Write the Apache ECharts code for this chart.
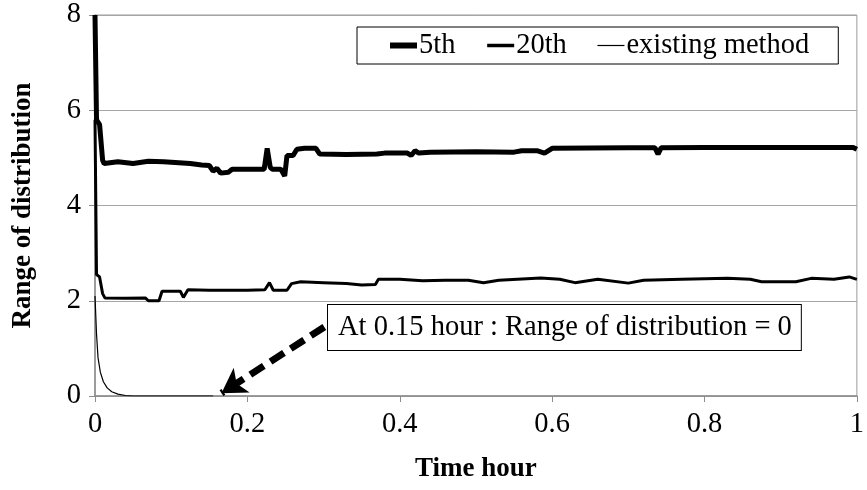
<!DOCTYPE html>
<html>
<head>
<meta charset="utf-8">
<script src="https://cdn.jsdelivr.net/npm/echarts@6/dist/echarts.min.js"></script>
<style>
  html, body { margin: 0; padding: 0; background: #fff; }
  #main { width: 867px; height: 490px; }
</style>
</head>
<body>
<div id="main"></div>
<script>
// 5th
const t5 = [0, 0.002, 0.006, 0.010, 0.012, 0.03, 0.05, 0.07, 0.09, 0.11, 0.125, 0.14, 0.15, 0.155, 0.16, 0.165, 0.175, 0.18, 0.2, 0.222, 0.226, 0.23, 0.233, 0.244, 0.249, 0.252, 0.26, 0.265, 0.275, 0.29, 0.295, 0.33, 0.37, 0.38, 0.41, 0.415, 0.42, 0.425, 0.44, 0.5, 0.55, 0.56, 0.58, 0.59, 0.6, 0.7, 0.735, 0.739, 0.743, 0.8, 0.9, 0.995, 1.0];
const v5 = [8, 5.8, 5.7, 4.95, 4.88, 4.92, 4.88, 4.93, 4.92, 4.9, 4.88, 4.85, 4.84, 4.72, 4.78, 4.68, 4.7, 4.76, 4.76, 4.76, 5.2, 4.8, 4.76, 4.76, 4.62, 5.05, 5.05, 5.18, 5.2, 5.2, 5.08, 5.07, 5.08, 5.1, 5.1, 5.05, 5.15, 5.1, 5.12, 5.13, 5.12, 5.15, 5.15, 5.1, 5.2, 5.21, 5.21, 5.08, 5.21, 5.22, 5.22, 5.22, 5.18];

// 20th
const t20 = [0, 0.002, 0.006, 0.01, 0.013, 0.04, 0.066, 0.07, 0.084, 0.088, 0.112, 0.116, 0.122, 0.15, 0.2, 0.223, 0.229, 0.234, 0.252, 0.258, 0.27, 0.3, 0.33, 0.35, 0.368, 0.372, 0.4, 0.43, 0.46, 0.49, 0.51, 0.53, 0.585, 0.61, 0.63, 0.66, 0.7, 0.72, 0.77, 0.83, 0.86, 0.875, 0.92, 0.94, 0.97, 0.99, 1.0];
const v20 = [5.8, 2.55, 2.5, 2.15, 2.06, 2.05, 2.06, 2.0, 2.0, 2.2, 2.2, 2.07, 2.23, 2.22, 2.22, 2.23, 2.38, 2.22, 2.22, 2.36, 2.4, 2.38, 2.36, 2.33, 2.34, 2.45, 2.45, 2.42, 2.43, 2.43, 2.38, 2.43, 2.48, 2.45, 2.38, 2.45, 2.37, 2.43, 2.45, 2.47, 2.45, 2.4, 2.4, 2.47, 2.45, 2.5, 2.45];

// existing method
const tEx = [0, 0.002, 0.004, 0.007, 0.011, 0.016, 0.022, 0.03, 0.04, 0.05, 0.155];
const vEx = [2.1, 1.3, 0.8, 0.5, 0.3, 0.17, 0.09, 0.04, 0.01, 0, 0];

const xTicks = [0, 0.2, 0.4, 0.6, 0.8, 1];
const yTicks = [0, 2, 4, 6, 8];

// annotation arrow: from box to the point where range reaches 0
const arrowFrom = [0.301, 1.45];
const arrowTo = [0.166, 0.06];
const noteText = 'At 0.15 hour : Range of distribution = 0';

const zip = (xs, ys) => xs.map((x, i) => [x, ys[i]]);
const serif = '"Liberation Serif", "Times New Roman", serif';

const chart = echarts.init(document.getElementById('main'));
chart.setOption({
  animation: false,
  textStyle: { fontFamily: serif, color: '#000' },
  grid: {
    left: 95, right: 1, top: 15, bottom: 94,
    show: true, borderColor: '#9a9a9a', borderWidth: 1
  },
  legend: {
    left: 357, top: 27,
    padding: [4, 29, 4, 30],
    borderColor: '#000', borderWidth: 1,
    itemWidth: 27, itemHeight: 14, itemGap: 30,
    itemStyle: { opacity: 0 },
    textStyle: { fontFamily: serif, fontSize: 28.5, color: '#000', padding: [0, 0, 0, -3] },
    data: [
      { name: '5th', lineStyle: { width: 6, color: '#000' } },
      { name: '20th', lineStyle: { width: 3.5, color: '#000' } },
      { name: 'existing method', lineStyle: { width: 1.2, color: '#000' } }
    ]
  },
  xAxis: {
    type: 'value', min: 0, max: 1, interval: 0.2,
    name: 'Time hour', nameLocation: 'middle', nameGap: 60,
    nameTextStyle: { fontFamily: serif, fontSize: 27, fontWeight: 'bold', color: '#000' },
    axisLine: { lineStyle: { color: '#8c8c8c', width: 1.5 } },
    axisTick: { show: true, length: 6, lineStyle: { color: '#8c8c8c' } },
    splitLine: { show: false },
    axisLabel: {
      fontFamily: serif, fontSize: 28.5, color: '#000', margin: 14,
      formatter: v => (xTicks.includes(+v.toFixed(1)) ? String(+v.toFixed(1)) : '')
    }
  },
  yAxis: {
    type: 'value', min: 0, max: 8, interval: 2,
    name: 'Range of distribution', nameLocation: 'middle', nameGap: 58,
    nameTextStyle: { fontFamily: serif, fontSize: 27, fontWeight: 'bold', color: '#000' },
    axisLine: { show: true, lineStyle: { color: '#8c8c8c', width: 1.5 } },
    axisTick: { show: true, length: 6, lineStyle: { color: '#8c8c8c' } },
    splitLine: { lineStyle: { color: '#a6a6a6', width: 1 } },
    axisLabel: {
      fontFamily: serif, fontSize: 28.5, color: '#000', margin: 14,
      formatter: v => (yTicks.includes(v) ? String(v) : '')
    }
  },
  series: [
    {
      name: '5th', type: 'line', data: zip(t5, v5),
      symbol: 'none', lineStyle: { color: '#000', width: 5 }, itemStyle: { color: '#000' }, z: 5
    },
    {
      name: '20th', type: 'line', data: zip(t20, v20),
      symbol: 'none', lineStyle: { color: '#000', width: 3 }, itemStyle: { color: '#000' }, z: 4
    },
    {
      name: 'existing method', type: 'line', data: zip(tEx, vEx),
      symbol: 'none', lineStyle: { color: '#000', width: 1.2 }, itemStyle: { color: '#000' }, z: 3,
      markLine: {
        silent: true, symbol: ['none', 'arrow'], symbolSize: [22, 24],
        label: { show: false },
        lineStyle: { color: '#000', width: 7, type: [16, 8] },
        data: [[{ coord: arrowFrom }, { coord: arrowTo }]]
      }
    }
  ],
  graphic: [{
    type: 'text', left: 327, top: 304, z: 10,
    style: {
      text: noteText, font: '28.5px ' + serif, fill: '#000',
      backgroundColor: '#fff', borderColor: '#000', borderWidth: 1,
      padding: [8, 9, 8, 10]
    }
  }]
});
</script>
</body>
</html>
